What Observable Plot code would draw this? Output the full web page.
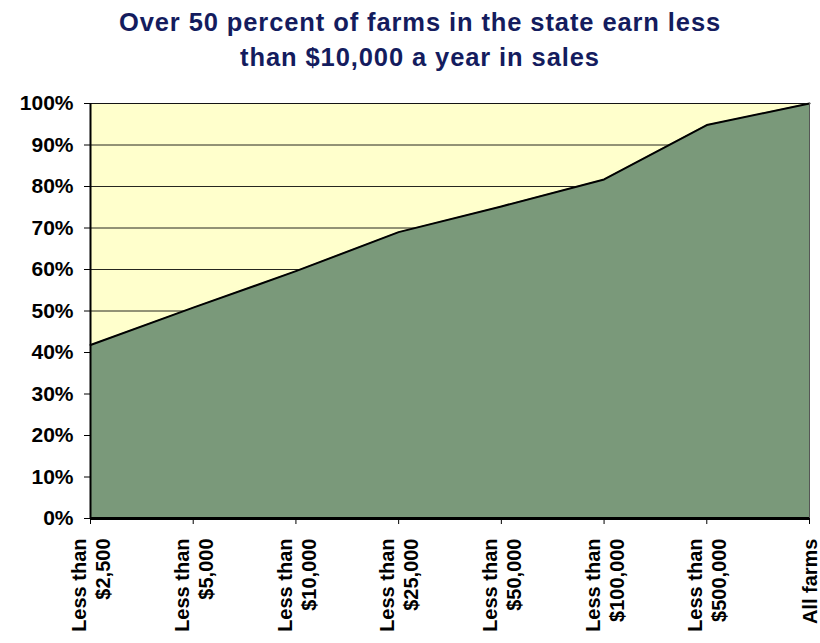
<!DOCTYPE html>
<html>
<head>
<meta charset="utf-8">
<script src="https://cdn.jsdelivr.net/npm/d3@7"></script>
<script src="https://cdn.jsdelivr.net/npm/@observablehq/plot@0.6"></script>
<style>
  html, body { margin: 0; padding: 0; background: #ffffff; }
  #title {
    height: 85px; box-sizing: border-box; padding-top: 5px;
    font-family: "Liberation Sans", Arial, sans-serif; font-weight: bold;
    font-size: 25.5px; letter-spacing: 0.9px; line-height: 35px;
    color: #141c5e; text-align: center; width: 820px; padding-left: 20px;
  }
</style>
</head>
<body>
<div id="title">Over 50 percent of farms in the state earn less<br>than $10,000 a year in sales</div>
<div id="chart"></div>
<script>
const categories = ["Less than\n$2,500", "Less than\n$5,000", "Less than\n$10,000", "Less than\n$25,000", "Less than\n$50,000", "Less than\n$100,000", "Less than\n$500,000", "All farms"];
const shares = [41.8, 50.8, 59.6, 69.0, 75.2, 81.7, 94.8, 100];
const yTicks = [0, 10, 20, 30, 40, 50, 60, 70, 80, 90, 100];

const data = categories.map((c, i) => ({i, cat: c, v: shares[i]}));

const chart = Plot.plot({
  width: 820,
  height: 558,
  marginTop: 18,
  marginBottom: 125,
  marginLeft: 90,
  marginRight: 11,
  style: {fontFamily: "Liberation Sans, Arial, sans-serif", fontWeight: "bold", color: "#000", background: "transparent"},
  x: {domain: [0, categories.length - 1]},
  y: {domain: [0, 100]},
  marks: [
    Plot.frame({fill: "#ffffcc", stroke: "#888888", strokeWidth: 1}),
    Plot.gridY(yTicks, {stroke: "#000", strokeOpacity: 0.85, strokeWidth: 1}),
    Plot.areaY(data, {x: "i", y: "v", fill: "#7a997a"}),
    Plot.lineY(data, {x: "i", y: "v", stroke: "#000", strokeWidth: 2}),
    Plot.ruleX([0], {stroke: "#000", strokeWidth: 2}),
    Plot.ruleX([categories.length - 1], {stroke: "#555", strokeWidth: 1}),
    Plot.ruleY([0], {stroke: "#000", strokeWidth: 3}),
    Plot.axisY(yTicks, {tickFormat: d => d + "%", tickSize: 6, tickPadding: 11, fontSize: 21, fontWeight: "bold", label: null, stroke: "#000", style: "letter-spacing:1.5px"}),
    Plot.axisX(d3.range(categories.length), {tickFormat: i => categories[i], tickRotate: -90, tickSize: 6, tickPadding: 14, fontSize: 20, fontWeight: "bold", label: null, lineHeight: 1.2, style: "letter-spacing:0.6px"})
  ]
});
document.getElementById("chart").appendChild(chart);
</script>
</body>
</html>
